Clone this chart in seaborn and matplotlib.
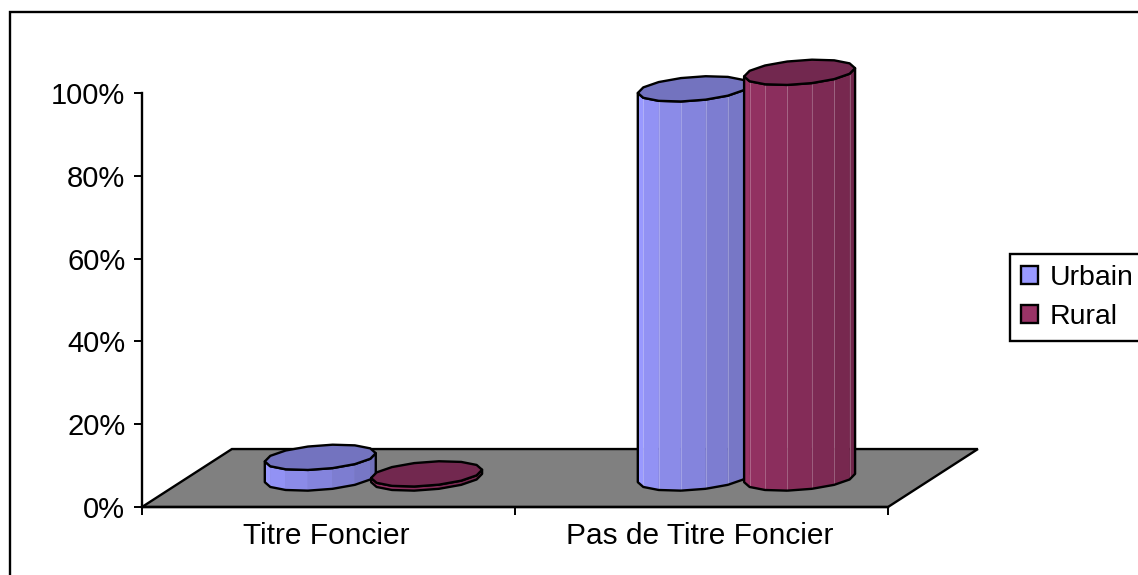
import numpy as np
import pandas as pd
import matplotlib
matplotlib.use('Agg')
import matplotlib.pyplot as plt
import seaborn as sns
from matplotlib.colors import to_rgb
from matplotlib.patches import Patch, Polygon, Rectangle

# values
categories = ['Titre Foncier', 'Pas de Titre Foncier']
urbain = [5, 94]
rural = [1, 98]
series_names = ['Urbain', 'Rural']
y_ticks = [0, 20, 40, 60, 80, 100]
y_tick_labels = ['0%', '20%', '40%', '60%', '80%', '100%']

W, H = 1138, 575
colors = {'Urbain': '#9999FF', 'Rural': '#993366'}
top_colors = {'Urbain': '#7373BF', 'Rural': '#72284F'}

# depth of the fake 3d floor, in data units
DEPTH_X = 0.241
DEPTH_Y = 14.0
ELLIPSE_B = 2.9
SHEAR = 1.0
WIDEN = 1.044
N_FACETS = 14

sns.set_theme(style='white')
plt.rcParams['font.family'] = ['Liberation Sans', 'DejaVu Sans']

df = pd.DataFrame({
    'Category': categories * 2,
    'Type': [series_names[0]] * 2 + [series_names[1]] * 2,
    'Value': urbain + rural,
})

fig = plt.figure(figsize=(W / 100, H / 100), dpi=100, facecolor='white')
ax = fig.add_axes([142 / W, 1 - 507 / H, (888 - 142) / W, (507 - 93) / H])
ax.patch.set_alpha(0)

sns.barplot(data=df, x='Category', y='Value', hue='Type', order=categories,
            hue_order=series_names, palette=colors, width=0.57, gap=0,
            legend=False, ax=ax)

ax.set_xlim(-0.5, 1.5)
ax.set_ylim(0, 100)
ax.set_xlabel('')
ax.set_ylabel('')

# floor
floor = Polygon([(-0.5, 0), (1.5, 0), (1.5 + DEPTH_X, DEPTH_Y), (-0.5 + DEPTH_X, DEPTH_Y)],
                closed=True, facecolor='#808080', edgecolor='black', linewidth=1.7,
                clip_on=False, zorder=1, joinstyle='miter')
ax.add_patch(floor)


def ring(cx, cy, a):
    t = np.pi + 2 * np.pi * np.arange(N_FACETS + 1) / N_FACETS
    x = cx + a * np.cos(t)
    y = cy + ELLIPSE_B * np.sin(t) + SHEAR * np.cos(t)
    return x, y


def draw_cylinder(x0, width, height, name, z):
    cx = x0 + width / 2 + DEPTH_X / 2
    base = DEPTH_Y / 2
    a = width / 2 * WIDEN
    xb, yb = ring(cx, base, a)
    xt, yt = ring(cx, base + height, a)
    half = N_FACETS // 2
    c = np.array(to_rgb(colors[name]))
    for i in range(half):
        shade = 1 - 0.27 * i / (half - 1)
        quad = [(xt[i], yt[i]), (xt[i + 1], yt[i + 1]), (xb[i + 1], yb[i + 1]), (xb[i], yb[i])]
        col = c * shade
        ax.add_patch(Polygon(quad, closed=True, facecolor=col, edgecolor=col, linewidth=0.4,
                             clip_on=False, zorder=z))
        # thin light seams, only on the tall ones
        if height > 20 and i > 0:
            ax.plot([xt[i], xt[i]], [yt[i], yb[i]], color='white', alpha=0.25, lw=0.7,
                    clip_on=False, zorder=z + 0.1)
    outline = list(zip(xt[:half + 1], yt[:half + 1])) + list(zip(xb[half::-1], yb[half::-1]))
    ax.add_patch(Polygon(outline, closed=True, fill=False, edgecolor='black', linewidth=1.7,
                         clip_on=False, zorder=z + 0.2, joinstyle='round'))
    ax.add_patch(Polygon(list(zip(xt, yt)), closed=True, facecolor=top_colors[name], edgecolor='black',
                         linewidth=1.7, clip_on=False, zorder=z + 0.3, joinstyle='round'))


# seaborn gives the bar positions, the cylinders are drawn on top of those
bars = [p for p in ax.patches if isinstance(p, Rectangle)]
bars = sorted(bars, key=lambda p: p.get_x())
names = [series_names[0], series_names[1]] * len(categories)
for i, (bar, name) in enumerate(zip(bars, names)):
    draw_cylinder(bar.get_x(), bar.get_width(), bar.get_height(), name, 3 + i)
    bar.set_visible(False)

# axes
sns.despine(ax=ax)
ax.spines['left'].set_linewidth(1.7)
ax.spines['bottom'].set_linewidth(1.7)
ax.spines['left'].set_color('black')
ax.spines['bottom'].set_color('black')
ax.set_yticks(y_ticks)
ax.set_yticklabels(y_tick_labels, fontsize=21, color='black')
ax.set_xticks([-0.5, 0.5, 1.5])
ax.set_xticklabels([])
ax.set_xticks([-0.006, 0.995], labels=categories, minor=True, fontsize=21.5, color='black')
ax.tick_params(axis='both', which='major', length=6, width=1.4, color='black', left=True, bottom=True)
ax.tick_params(axis='x', which='minor', length=0, pad=11, bottom=True)
ax.tick_params(axis='y', pad=6)

# legend
handles = [Patch(facecolor=colors[n], edgecolor='black', linewidth=1.7, label=n) for n in series_names]
leg = fig.legend(handles=handles, loc='upper left', bbox_to_anchor=(1010 / W, 1 - 254 / H),
                 bbox_transform=fig.transFigure, borderaxespad=0, frameon=True, fancybox=False,
                 edgecolor='black', facecolor='white', framealpha=1, fontsize=20.5,
                 handlelength=0.6, handleheight=0.6, handletextpad=0.4, labelspacing=0.47,
                 borderpad=0.38)
leg.get_frame().set_linewidth(1.7)
for t in leg.get_texts():
    t.set_color('black')

# outer frame, it runs off the right and bottom of the picture
fig.add_artist(Rectangle((10 / W, -0.05), 1.1, 1 - 12 / H + 0.05, transform=fig.transFigure,
                         fill=False, edgecolor='black', linewidth=1.7, zorder=0))

fig.savefig('out.png', dpi=100)
